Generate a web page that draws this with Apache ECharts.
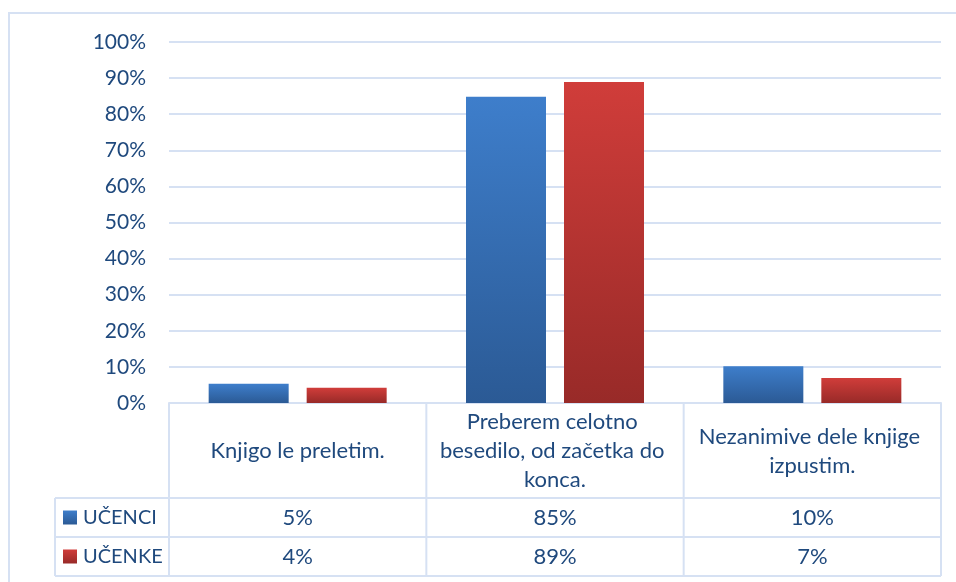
<!DOCTYPE html>
<html><head><meta charset="utf-8">
<script src="https://cdn.jsdelivr.net/npm/echarts@6/dist/echarts.min.js"></script>
<style>html,body{margin:0;padding:0;background:#fff}#c{width:956px;height:582px}</style>
</head><body><div id="c"></div>
<script>
const categories = ['Knjigo le preletim.', 'Preberem celotno besedilo, od začetka do konca.', 'Nezanimive dele knjige izpustim.'];
const seriesNames = ['UČENCI', 'UČENKE'];
const ucenci = [0.053, 0.848, 0.102];
const ucenke = [0.042, 0.889, 0.069];
const yTicks = [0, 0.1, 0.2, 0.3, 0.4, 0.5, 0.6, 0.7, 0.8, 0.9, 1.0];

const FONT = 'Lato';
const TXT = '#1f497d';
const LINE = '#d6e1f3';
const G = {left: 169, right: 15, top: 42, bottom: 179};
const W = 956, H = 582;
const rowTops = [403, 498, 537, 576];
const legendLeft = 55;

const blueGrad = new echarts.graphic.LinearGradient(0,0,0,1,[{offset:0,color:'#3e7ecb'},{offset:1,color:'#2b5a95'}]);
const redGrad = new echarts.graphic.LinearGradient(0,0,0,1,[{offset:0,color:'#d03d3a'},{offset:1,color:'#982a28'}]);
const keyColors = [['#3e7ecb','#2b5a95'],['#d03d3a','#982a28']];

const chart = echarts.init(document.getElementById('c'), null, {renderer:'canvas'});
const shadow = {shadowBlur:5, shadowColor:'rgba(0,0,0,0.28)', shadowOffsetX:2, shadowOffsetY:2};
chart.setOption({
  animation:false,
  textStyle:{fontFamily:FONT},
  grid:G,
  xAxis:{type:'category', data:categories,
    axisLine:{show:true, lineStyle:{color:LINE, width:2}},
    axisTick:{show:false},
    axisLabel:{show:true, interval:0, color:TXT, fontSize:22, fontFamily:FONT, width:245, overflow:'break', lineHeight:29, verticalAlign:'middle', align:'center', margin:48}
  },
  yAxis:{type:'value', min:0, max:1, interval:0.1,
    axisLine:{show:false}, axisTick:{show:false},
    axisLabel:{color:TXT, fontSize:21, fontFamily:FONT, margin:23, formatter:v=>Math.round(v*100)+'%'},
    splitLine:{lineStyle:{color:LINE, width:2}}
  },
  series:[
    {name:seriesNames[0], type:'bar', data:ucenci, barWidth:80, barGap:'22.5%', itemStyle:Object.assign({color:blueGrad}, shadow)},
    {name:seriesNames[1], type:'bar', data:ucenke, barWidth:80, itemStyle:Object.assign({color:redGrad}, shadow)}
  ]
});

// Data table
const gridW = W - G.left - G.right;
const colW = gridW / categories.length;
const right = G.left + gridW;
const els = [];
const ln = (x1,y1,x2,y2)=>els.push({type:'line', shape:{x1,y1,x2,y2}, style:{stroke:LINE, lineWidth:2}, z:5});
els.push({type:'rect', shape:{x:9,y:13,width:W,height:H}, style:{fill:null, stroke:LINE, lineWidth:2}, z:1});
for (let i=0;i<=categories.length;i++){ const x = G.left + i*colW; ln(x, rowTops[0], x, rowTops[3]); }
ln(legendLeft, rowTops[1], legendLeft, rowTops[3]);
for (let r=1;r<rowTops.length;r++) ln(legendLeft, rowTops[r], right, rowTops[r]);
const rows = [ucenci, ucenke];
rows.forEach((vals, r)=>{
  const cy = (rowTops[r+1] + rowTops[r+2]) / 2;
  els.push({type:'rect', shape:{x:63, y:cy-7, width:14, height:14},
    style:{fill:new echarts.graphic.LinearGradient(0,0,0,1,[{offset:0,color:keyColors[r][0]},{offset:1,color:keyColors[r][1]}])}, z:6});
  els.push({type:'text', x:83, y:cy, style:{text:seriesNames[r], fill:TXT, font:'20px '+FONT, textVerticalAlign:'middle', textAlign:'left'}, z:6});
  vals.forEach((v,i)=>{
    const x = chart.convertToPixel({xAxisIndex:0}, categories[i]);
    els.push({type:'text', x:x, y:cy, style:{text:Math.round(v*100)+'%', fill:TXT, font:'22px '+FONT, textVerticalAlign:'middle', textAlign:'center'}, z:6});
  });
});
chart.setOption({graphic:els});
</script></body></html>
